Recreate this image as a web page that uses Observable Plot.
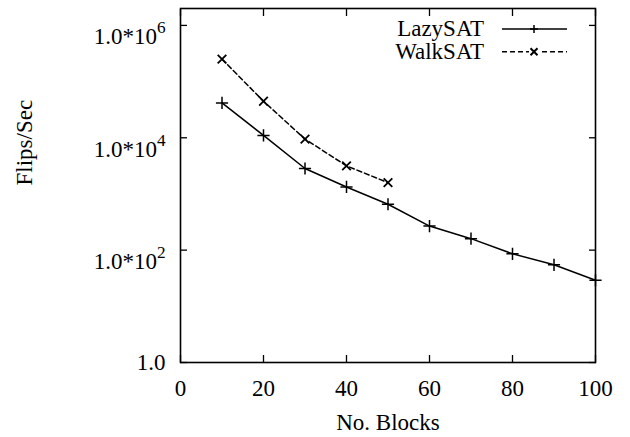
<!DOCTYPE html>
<html>
<head>
<meta charset="utf-8">
<script src="https://cdn.jsdelivr.net/npm/d3@7"></script>
<script src="https://cdn.jsdelivr.net/npm/@observablehq/plot@0.6"></script>
<style>
  html, body { margin: 0; padding: 0; background: #fff; }
  svg { display: block; }
</style>
</head>
<body>
<div id="chart"></div>
<script>
// ---- data ----
const blocks = [10, 20, 30, 40, 50, 60, 70, 80, 90, 100];
const lazySAT = [41700, 11000, 2840, 1333, 655, 268, 160, 86, 54.8, 29.1];
const walkBlocks = [10, 20, 30, 40, 50];
const walkSAT = [251000, 44700, 9480, 3162, 1590];
const xTicks = [0, 20, 40, 60, 80, 100];
const yTicks = [1, 1e2, 1e4, 1e6];
const yTickLabels = ["1.0", "1.0*10^2", "1.0*10^4", "1.0*10^6"];
const seriesNames = ["LazySAT", "WalkSAT"];
const xLabel = "No. Blocks";
const yLabel = "Flips/Sec";

const lazyData = blocks.map((b, i) => ({x: b, y: lazySAT[i]}));
const walkData = walkBlocks.map((b, i) => ({x: b, y: walkSAT[i]}));

const FONT = "'Liberation Serif', 'Times New Roman', serif";

// legend as a function mark
function legend(index, scales, values, dims) {
  const g = d3.create("svg:g");
  const right = dims.width - dims.marginRight;
  const entries = [
    {name: seriesNames[0], dash: null, sym: "plus"},
    {name: seriesNames[1], dash: "5,3", sym: "times"}
  ];
  entries.forEach((e, i) => {
    const y = dims.marginTop + 21 + i * 22.7;
    g.append("text")
      .attr("x", right - 111).attr("y", y).attr("dy", "0.32em")
      .attr("text-anchor", "end")
      .attr("font-family", FONT).attr("font-size", 23)
      .text(e.name);
    g.append("line")
      .attr("x1", right - 93).attr("x2", right - 28)
      .attr("y1", y).attr("y2", y)
      .attr("stroke", "#000").attr("stroke-width", 1.5)
      .attr("stroke-dasharray", e.dash);
    const cx = right - 61;
    const s = e.sym === "plus" ? 4 : 3.5;
    if (e.sym === "plus") {
      g.append("path").attr("d", `M${cx - s},${y}H${cx + s}M${cx},${y - s}V${y + s}`)
        .attr("stroke", "#000").attr("stroke-width", 1.5);
    } else {
      g.append("rect").attr("x", cx - 5).attr("y", y - 5).attr("width", 10).attr("height", 10).attr("fill", "#fff");
      g.append("path").attr("d", `M${cx - s},${y - s}L${cx + s},${y + s}M${cx - s},${y + s}L${cx + s},${y - s}`)
        .attr("stroke", "#000").attr("stroke-width", 2);
    }
  });
  return g.node();
}

const chart = Plot.plot({
  width: 630,
  height: 437,
  marginLeft: 180,
  marginRight: 35,
  marginTop: 8,
  marginBottom: 75,
  style: {fontFamily: FONT, fontSize: "23px", color: "#000", background: "#fff"},
  x: {domain: [0, 100]},
  y: {type: "log", domain: [1, 2e6]},
  marks: [
    // inward ticks (all four sides)
    Plot.axisX({anchor: "bottom", ticks: xTicks, tickSize: -7, tickFormat: () => "", label: null, strokeWidth: 1.3}),
    Plot.axisX({anchor: "top", ticks: xTicks, tickSize: -7, tickFormat: () => "", label: null, strokeWidth: 1.3}),
    Plot.axisY({anchor: "left", ticks: yTicks, tickSize: -7, tickFormat: () => "", label: null, strokeWidth: 1.3}),
    Plot.axisY({anchor: "right", ticks: yTicks, tickSize: -7, tickFormat: () => "", label: null, strokeWidth: 1.3}),
    // tick labels
    Plot.axisX({anchor: "bottom", ticks: xTicks, tickSize: 0, tickPadding: 17, fontSize: 23, label: null}),
    Plot.axisY({anchor: "left", ticks: yTicks, tickSize: 0, tickPadding: 15, fontSize: 23, label: null,
      tickFormat: (d) => yTickLabels[yTicks.indexOf(d)]}),
    Plot.frame({stroke: "#000", strokeWidth: 1.6}),
    // axis titles
    Plot.text([xLabel], {frameAnchor: "bottom", dy: 60, text: (d) => d, fontSize: 23, lineAnchor: "middle"}),
    Plot.text([yLabel], {frameAnchor: "left", dx: -156, rotate: -90, text: (d) => d, fontSize: 23, lineAnchor: "middle"}),
    // series
    Plot.line(lazyData, {x: "x", y: "y", stroke: "#000", strokeWidth: 1.5}),
    Plot.line(walkData, {x: "x", y: "y", stroke: "#000", strokeWidth: 1.5, strokeDasharray: "5,3"}),
    Plot.dot(lazyData, {x: "x", y: "y", symbol: "plus", r: 4, stroke: "#000", strokeWidth: 1.5}),
    Plot.dot(walkData, {x: "x", y: "y", symbol: "times", r: 4, stroke: "#000", strokeWidth: 1.8}),
    legend
  ]
});

// render superscripts in the y tick labels
d3.select(chart).selectAll("text").each(function() {
  const t = this.textContent;
  if (t.includes("^")) {
    const [base, exp] = t.split("^");
    const sel = d3.select(this);
    sel.text(base).attr("dy", "11.4");
    sel.append("tspan").attr("dy", "-0.62em").attr("font-size", "0.75em").text(exp);
  }
});

document.getElementById("chart").appendChild(chart);
</script>
</body>
</html>
